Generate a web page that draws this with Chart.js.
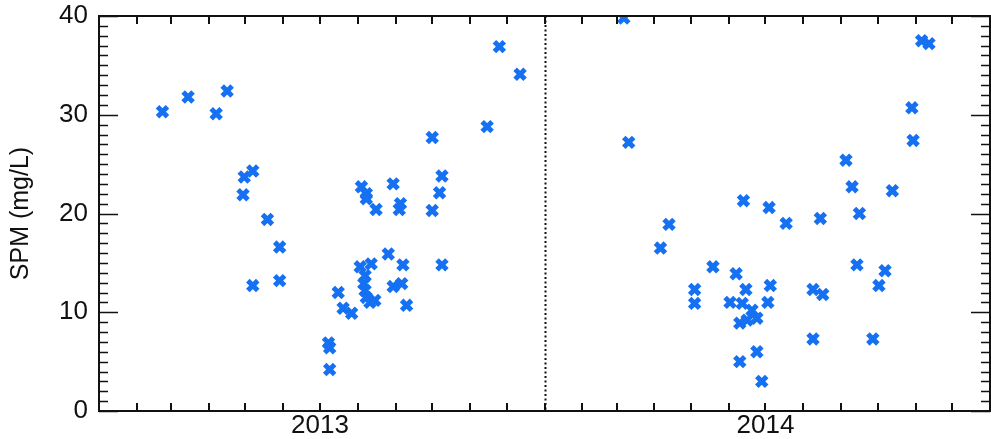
<!DOCTYPE html>
<html>
<head>
<meta charset="utf-8">
<script src="https://cdn.jsdelivr.net/npm/chart.js@4.4.1/dist/chart.umd.min.js"></script>
<style>
  html, body { margin: 0; padding: 0; background: #ffffff; overflow: hidden; }
  #wrap { position: relative; width: 991px; height: 439px; overflow: hidden; }
  #c { display: block; }
</style>
</head>
<body>
<div id="wrap"><canvas id="c"></canvas></div>
<script>
// ---- data ----
const sampleDates = [
  '2013-02-22','2013-03-15','2013-04-07','2013-04-16','2013-04-30','2013-05-07','2013-04-29','2013-05-07',
  '2013-05-19','2013-05-29','2013-05-29','2013-07-08','2013-07-09','2013-07-09','2013-07-16','2013-07-20',
  '2013-07-27','2013-08-03','2013-08-04','2013-08-08','2013-08-08','2013-08-07','2013-08-06','2013-08-07',
  '2013-08-08','2013-08-11','2013-08-12','2013-08-15','2013-08-16','2013-08-26','2013-08-30','2013-08-30',
  '2013-09-05','2013-09-04','2013-09-06','2013-09-07','2013-09-10','2013-10-01','2013-10-01','2013-10-07',
  '2013-10-09','2013-10-09','2013-11-15','2013-11-25','2013-12-12',
  '2014-03-07','2014-03-11','2014-04-06','2014-04-13','2014-05-04','2014-05-04','2014-05-19','2014-06-02',
  '2014-06-07','2014-06-10','2014-06-10','2014-06-12','2014-06-13','2014-06-15','2014-06-16','2014-06-20',
  '2014-06-24','2014-06-24','2014-06-28','2014-07-03','2014-07-04','2014-07-05','2014-07-18','2014-08-09',
  '2014-08-09','2014-08-15','2014-08-17','2014-09-05','2014-09-10','2014-09-14','2014-09-16','2014-09-27',
  '2014-10-02','2014-10-07','2014-10-13','2014-10-29','2014-10-30','2014-11-06','2014-11-12'
];
const spmValues = [
  30.3, 31.8, 30.1, 32.4, 23.7, 24.3, 21.9, 12.7,
  19.4, 16.6, 13.2, 6.9, 6.4, 4.2, 12.0, 10.4,
  9.9, 14.6, 22.7, 22.0, 21.5, 13.7, 12.9, 12.2,
  11.5, 11.0, 14.9, 11.2, 20.4, 15.9, 23.0, 12.6,
  21.0, 20.4, 12.9, 14.8, 10.7, 27.7, 20.3, 22.1,
  23.8, 14.8, 28.8, 36.9, 34.1,
  39.8, 27.2, 16.5, 18.9, 12.3, 10.9, 14.6, 11.0,
  13.9, 8.9, 5.0, 10.9, 21.3, 12.3, 9.2, 10.2,
  9.4, 6.0, 3.0, 11.0, 20.6, 12.7, 19.0, 12.3,
  7.3, 19.5, 11.8, 25.4, 22.7, 14.8, 20.0, 7.3,
  12.7, 14.2, 22.3, 30.7, 27.4, 37.5, 37.2
];
const yearLabels = ['2013', '2014'];
const yTickValues = [0, 10, 20, 30, 40];
const axisStart = '2013-01-01';
const axisEnd = '2015-01-01';
const yMin = 0, yMax = 40;

// ---- helpers ----
function dayOf(iso) {
  const p = iso.split('-').map(Number);
  const s = axisStart.split('-').map(Number);
  return (Date.UTC(p[0], p[1] - 1, p[2]) - Date.UTC(s[0], s[1] - 1, s[2])) / 86400000;
}
const points = sampleDates.map((d, i) => ({ x: dayOf(d), y: spmValues[i] }));
const labelDays = yearLabels.map(y => dayOf(y + '-07-01'));
const monthDays = [];
for (let y = 2013; y <= 2014; y++) for (let m = 1; m <= 12; m++) monthDays.push(dayOf(y + '-' + String(m).padStart(2, '0') + '-01'));
const yearSplitDays = yearLabels.slice(1).map(y => dayOf(y + '-01-01'));

const FONT = "'Liberation Sans', Arial, Helvetica, sans-serif";
const INK = '#111111';

const axisDecor = {
  id: 'axisDecor',
  afterDatasetsDraw(chart) {
    const { ctx, chartArea: a, scales: { x, y } } = chart;
    ctx.save();
    ctx.strokeStyle = INK;
    ctx.lineWidth = 2;
    ctx.setLineDash([2, 2.5]);
    yearSplitDays.forEach(d => {
      const px = Math.round(x.getPixelForValue(d)) + 0.5;
      ctx.beginPath(); ctx.moveTo(px, a.top); ctx.lineTo(px, a.bottom); ctx.stroke();
    });
    ctx.setLineDash([]);
    ctx.lineWidth = 2;
    monthDays.forEach(d => {
      const px = Math.round(x.getPixelForValue(d));
      ctx.beginPath();
      ctx.moveTo(px, a.bottom); ctx.lineTo(px, a.bottom - 8);
      ctx.moveTo(px, a.top); ctx.lineTo(px, a.top + 8);
      ctx.stroke();
    });
    ctx.lineWidth = 1.6;
    for (let v = yMin; v <= yMax; v++) {
      const py = Math.round(y.getPixelForValue(v)) + 0.5;
      const len = v % 10 === 0 ? 19 : 9;
      ctx.beginPath();
      ctx.moveTo(a.left, py); ctx.lineTo(a.left + len, py);
      ctx.moveTo(a.right, py); ctx.lineTo(a.right - len, py);
      ctx.stroke();
    }
    ctx.lineWidth = 2;
    ctx.strokeRect(a.left, a.top, a.right - a.left, a.bottom - a.top);
    ctx.restore();
  }
};

new Chart(document.getElementById('c'), {
  type: 'scatter',
  data: {
    datasets: [{
      data: points,
      pointStyle: 'crossRot',
      pointRadius: 7,
      pointHoverRadius: 7,
      pointBorderWidth: 5,
      pointHoverBorderWidth: 5,
      borderColor: '#1670f2',
      backgroundColor: '#1670f2',
      clip: 0
    }]
  },
  options: {
    responsive: true,
    maintainAspectRatio: false,
    animation: false,
    devicePixelRatio: 1,
    layout: { autoPadding: false, padding: { top: 16, right: 1, bottom: 0, left: 0 } },
    plugins: { legend: { display: false }, tooltip: { enabled: false } },
    events: [],
    scales: {
      x: {
        type: 'linear',
        min: dayOf(axisStart),
        max: dayOf(axisEnd),
        grid: { display: false, drawTicks: false },
        border: { display: false },
        afterBuildTicks: s => { s.ticks = labelDays.map(v => ({ value: v })); },
        ticks: {
          autoSkip: false, maxRotation: 0, padding: 2,
          color: INK,
          font: { family: FONT, size: 26, lineHeight: 1 },
          callback: (v, i) => yearLabels[i]
        },
        afterFit: s => { s.height = 28; s.paddingLeft = 0; s.paddingRight = 0; }
      },
      y: {
        min: yMin, max: yMax,
        grid: { display: false, drawTicks: false },
        border: { display: false },
        afterBuildTicks: s => { s.ticks = yTickValues.map(v => ({ value: v })); },
        ticks: {
          padding: 11, color: INK,
          font: { family: FONT, size: 26, lineHeight: 1 }
        },
        title: {
          display: true, text: 'SPM (mg/L)', color: INK,
          font: { family: FONT, size: 25, lineHeight: 1 },
          padding: { top: 9, bottom: 0 }
        },
        afterFit: s => { s.width = 99; s.paddingTop = 0; s.paddingBottom = 0; }
      }
    }
  },
  plugins: [axisDecor]
});
</script>
</body>
</html>
